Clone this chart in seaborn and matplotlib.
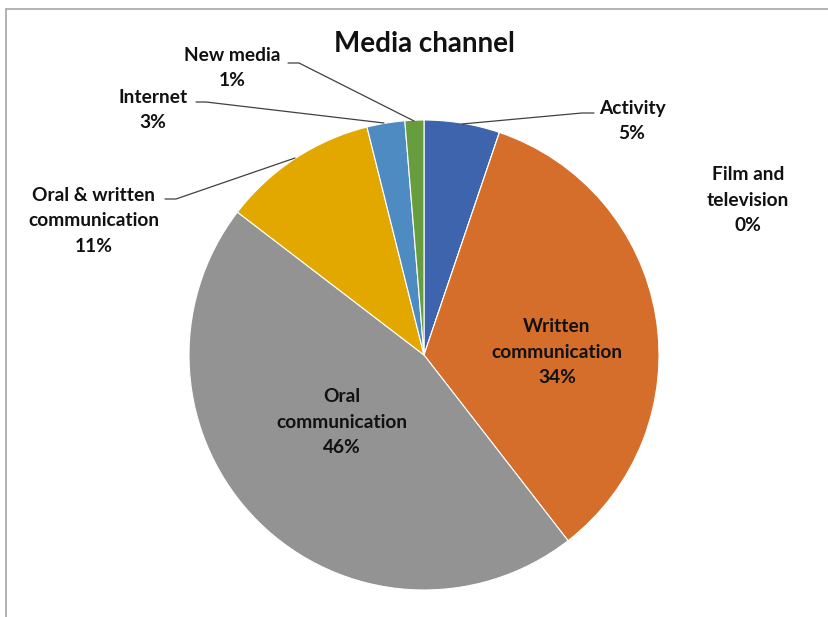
import matplotlib
matplotlib.use("Agg")
import matplotlib.pyplot as plt
import seaborn as sns

# data (share of mentions, %)
categories = ["Activity", "Film and\ntelevision", "Written\ncommunication",
              "Oral\ncommunication", "Oral & written\ncommunication",
              "Internet", "New media"]
shares = [5.2, 0.0, 34.3, 45.9, 10.7, 2.6, 1.3]

colors = ["#3E64AD", "#A0A0A0", "#D46E2A", "#939393", "#E2A800", "#4E8BC2", "#679C3F"]

sns.set_theme(style="white")
plt.rcParams["font.family"] = ["Lato", "DejaVu Sans"]

W, H = 829, 617
fig = plt.figure(figsize=(W / 100, H / 100), dpi=100)
ax = fig.add_axes([0, 0, 1, 1])

# pie in pixel coordinates (y up)
cx, cy, r = 424, H - 355, 235
ax.pie(shares, colors=colors, startangle=90, counterclock=False,
       center=(cx, cy), radius=r, frame=True,
       wedgeprops=dict(edgecolor="white", linewidth=0.8))
ax.set_xlim(0, W)
ax.set_ylim(0, H)
ax.set_aspect("auto")
ax.axis("off")

# label block centres (pixel coords, y measured from top)
label_pos = [(632, 121), (748, 200), (557, 352), (342, 422),
             (94, 221), (153, 110), (232, 68)]
for name, val, (x, y) in zip(categories, shares, label_pos):
    ax.text(x, H - y, f"{name}\n{round(val)}%", ha="center", va="center",
            fontsize=13.8, fontweight="bold", color="#111111", linespacing=1.6)

# leader lines
leaders = [
    [(462, 124), (582, 113), (594, 113)],   # Activity
    [(414, 121), (299, 63), (288, 63)],     # New media
    [(384, 123), (206, 102), (196, 102)],   # Internet
    [(295, 158), (176, 199), (165, 199)],   # Oral & written
]
for pts in leaders:
    xs = [p[0] for p in pts]
    ys = [H - p[1] for p in pts]
    ax.plot(xs, ys, color="#404040", linewidth=0.9)

ax.text(424, H - 44, "Media channel", ha="center", va="center",
        fontsize=20, fontweight="bold", color="#111111")

# chart frame (top and left edges visible)
ax.plot([6, W], [H - 9, H - 9], color="#A6A6A6", linewidth=1.2, clip_on=False)
ax.plot([6, 6], [H - 9, 0], color="#A6A6A6", linewidth=1.2, clip_on=False)

fig.savefig("out.png", dpi=100)
